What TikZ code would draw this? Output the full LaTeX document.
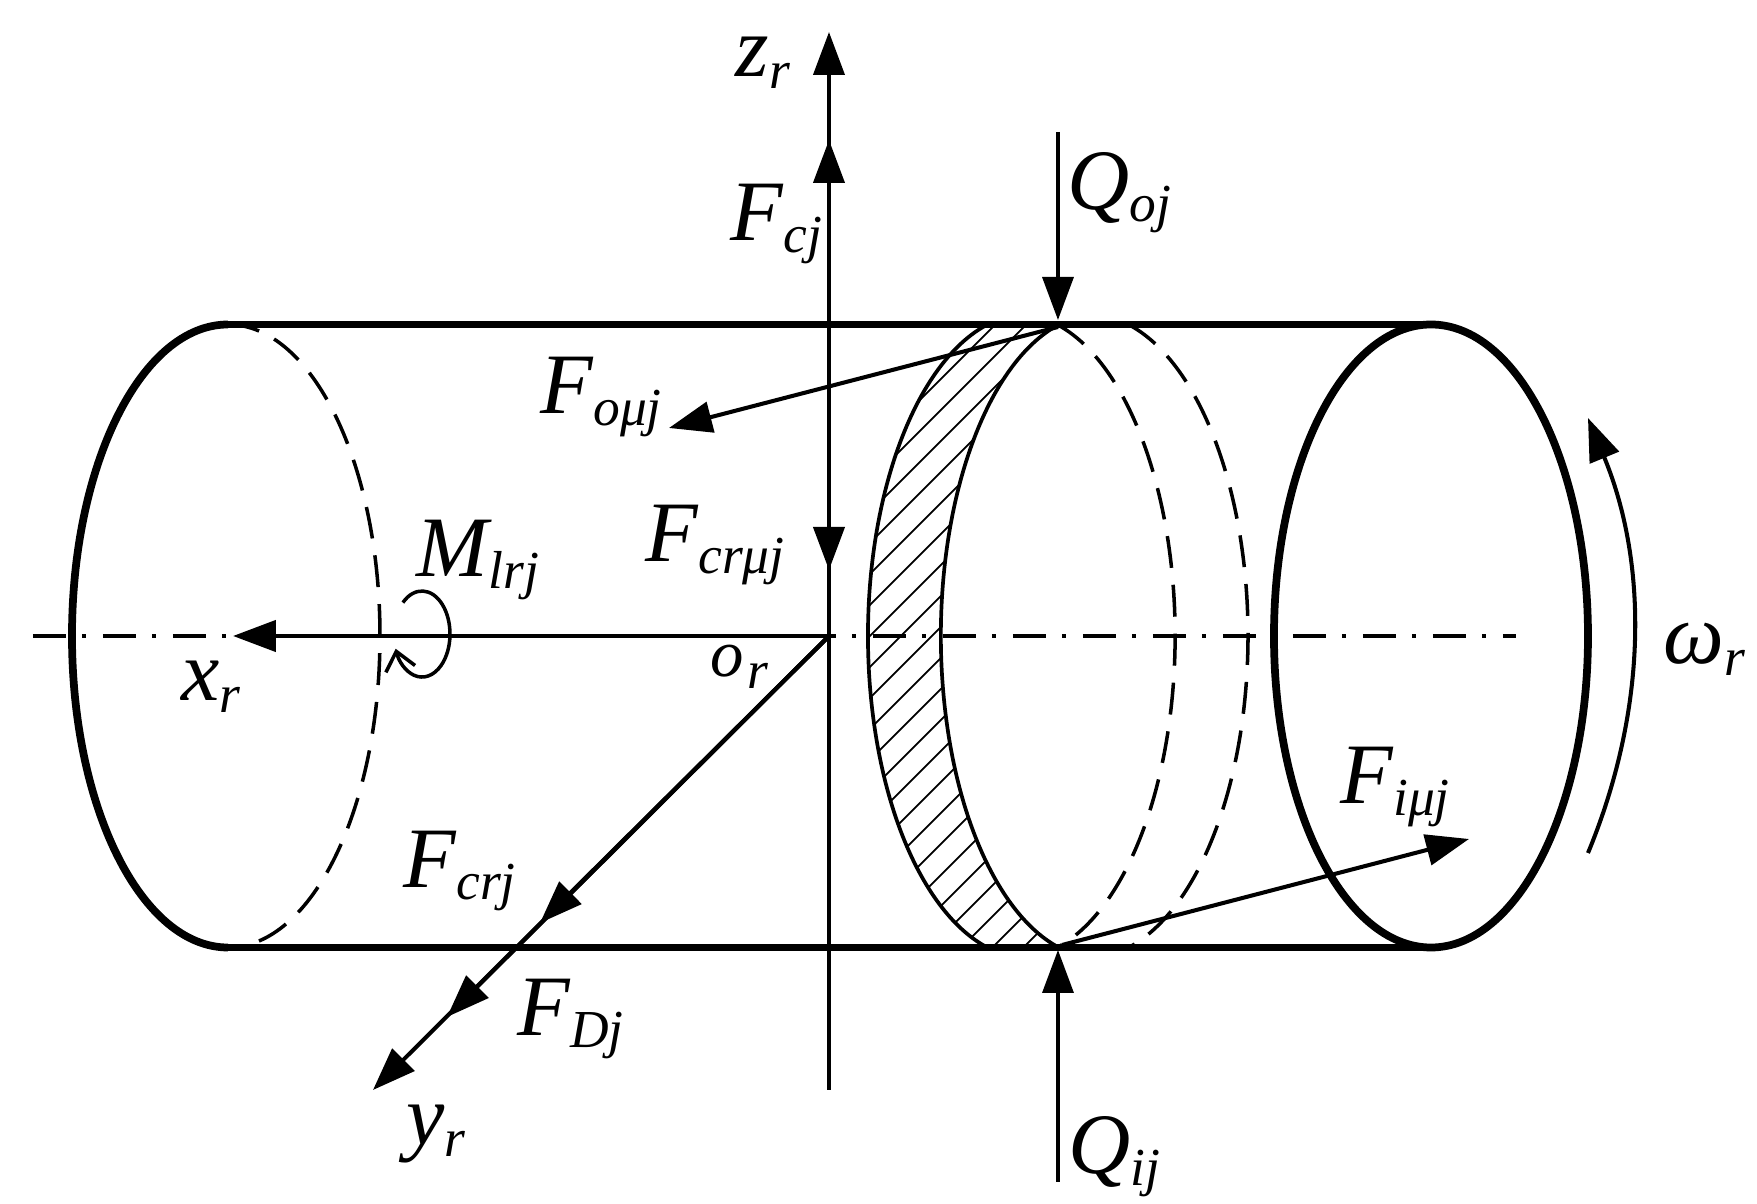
\documentclass[tikz,border=0pt]{standalone}
\usepackage{fontspec}
\setmainfont{Liberation Serif}
\usetikzlibrary{arrows.meta}

\newcommand{\subtxt}[1]{\raisebox{-3.2pt}{\fontsize{15.2}{16}\selectfont #1}}

\tikzset{
    sym/.style={inner sep=0pt, anchor=base west, font=\fontsize{24.5}{26}\selectfont\itshape},
    force/.style={-{Triangle[length=0.43cm,width=0.31cm]}, line width=1.15pt},
    shell/.style={line width=1.85pt},
    shellend/.style={line width=2.2pt},
    rim/.style={line width=1.05pt},
    hidden/.style={line width=1pt, dash pattern=on 0.32cm off 0.17cm},
    centre/.style={line width=1pt, dash pattern=on 0.33cm off 0.16cm on 0.04cm off 0.17cm}
}

\begin{document}
\begin{tikzpicture}
        \useasboundingbox (-8.29,-5.68) rectangle (9.28,6.36);

        \coordinate (or) at (0,0);
        \coordinate (ax) at (-7.96,0);
        \coordinate (az) at (6.87,0);
        \coordinate (xtip) at (-5.96,0);
        \coordinate (ytip) at (-4.56,-4.54);
        \coordinate (Fcrtip) at (-2.89,-2.87);
        \coordinate (FDtip) at (-3.82,-3.81);
        \coordinate (ztip) at (0,6.04);
        \coordinate (zend) at (0,-4.54);
        \coordinate (Fctip) at (0,4.96);
        \coordinate (Fmtop) at (0,3.115);
        \coordinate (Fmtip) at (0,0.66);
        \coordinate (Qotop) at (2.29,5.04);
        \coordinate (Qotip) at (2.29,3.16);
        \coordinate (Qibot) at (2.29,-5.46);
        \coordinate (Qitip) at (2.29,-3.14);
        \coordinate (Fostart) at (2.29,3.09);
        \coordinate (Fotip) at (-1.60,2.08);
        \coordinate (Fistart) at (2.33,-3.09);
        \coordinate (Fitip) at (6.40,-2.03);
        \coordinate (wstart) at (7.59,-2.17);
        \coordinate (wtip) at (7.59,2.18);
        \coordinate (mstart) at (-4.261,0.334);

        % hatched band
        \begin{scope}
            \clip (1.576,3.11) arc (105:255:1.6cm and 3.22cm) -- (2.29,-3.11)
                arc (255:105:1.58cm and 3.22cm) -- cycle;
            \foreach \k in {-22,...,4}
                \draw[line width=0.5pt] (0,0.83+0.31*\k) -- (2.6,3.43+0.31*\k);
        \end{scope}
        \draw[rim] (1.576,3.11) arc (105:255:1.6cm and 3.22cm);
        \draw[rim] (2.29,3.11) arc (105:255:1.58cm and 3.22cm);
        \draw[hidden] (2.29,3.11) arc (75:-75:1.58cm and 3.22cm);
        \draw[hidden] (3.004,3.11) arc (75:-75:1.6cm and 3.22cm);

        % shaft
        \draw[shell] (-6.01,3.115) -- (6.02,3.115);
        \draw[shell] (-6.01,-3.115) -- (6.02,-3.115);
        \draw[shellend] (-6.01,3.115) arc (90:270:1.56cm and 3.115cm);
        \draw[hidden] (-6.01,3.115) arc (90:-90:1.52cm and 3.115cm);
        \draw[shellend] (6.02,0) ellipse (1.57cm and 3.115cm);

        \draw[centre] (ax) -- (az);

        % axes and forces
        \draw[force, line width=1.3pt] (or) -- (xtip);
        \draw[force] (or) -- (ytip);
        \draw[force] (or) -- (Fcrtip);
        \draw[force] (or) -- (FDtip);
        \draw[force] (zend) -- (ztip);
        \draw[force] (or) -- (Fctip);
        \draw[force] (Fmtop) -- (Fmtip);
        \draw[force, line width=1pt] (Qotop) -- (Qotip);
        \draw[force, line width=1pt] (Qibot) -- (Qitip);
        \draw[force] (Fostart) -- (Fotip);
        \draw[force] (Fistart) -- (Fitip);
        \draw[force] (wstart) .. controls (8.19,-0.72) and (8.19,0.73) .. (wtip);
        \draw[line width=1pt, -{Straight Barb[length=0.18cm,width=0.3cm]}] (mstart) arc (133:-160:0.28cm and 0.43cm);

        % labels
        \node[sym] (zr) at (-0.94,5.59) {z\subtxt{r}};
        \node[sym] (Fcj) at (-0.99,3.95) {F\subtxt{cj}};
        \node[sym] (Qoj) at (2.38,4.26) {Q\subtxt{oj}};
        \node[sym] (Fomj) at (-2.89,2.22) {F\subtxt{oμj}};
        \node[sym] (Fcrmj) at (-1.84,0.74) {F\subtxt{crμj}};
        \node[sym] (Mlrj) at (-4.13,0.59) {M\subtxt{lrj}};
        \node[sym] (xr) at (-6.48,-0.65) {x\subtxt{r}};
        \node[sym] (oor) at (-1.19,-0.41) {\fontsize{19}{20}\selectfont o\kern1pt\subtxt{r}};
        \node[sym] (wr) at (8.34,-0.28) {ω\subtxt{r}};
        \node[sym] (Fimj) at (5.11,-1.68) {F\subtxt{iμj}};
        \node[sym] (Fcrj) at (-4.26,-2.52) {F\subtxt{crj}};
        \node[sym] (FDj) at (-3.12,-4.00) {F\subtxt{Dj}};
        \node[sym] (yr) at (-4.23,-5.09) {y\subtxt{r}};
        \node[sym] (Qij) at (2.39,-5.38) {Q\subtxt{ij}};
\end{tikzpicture}
\end{document}
